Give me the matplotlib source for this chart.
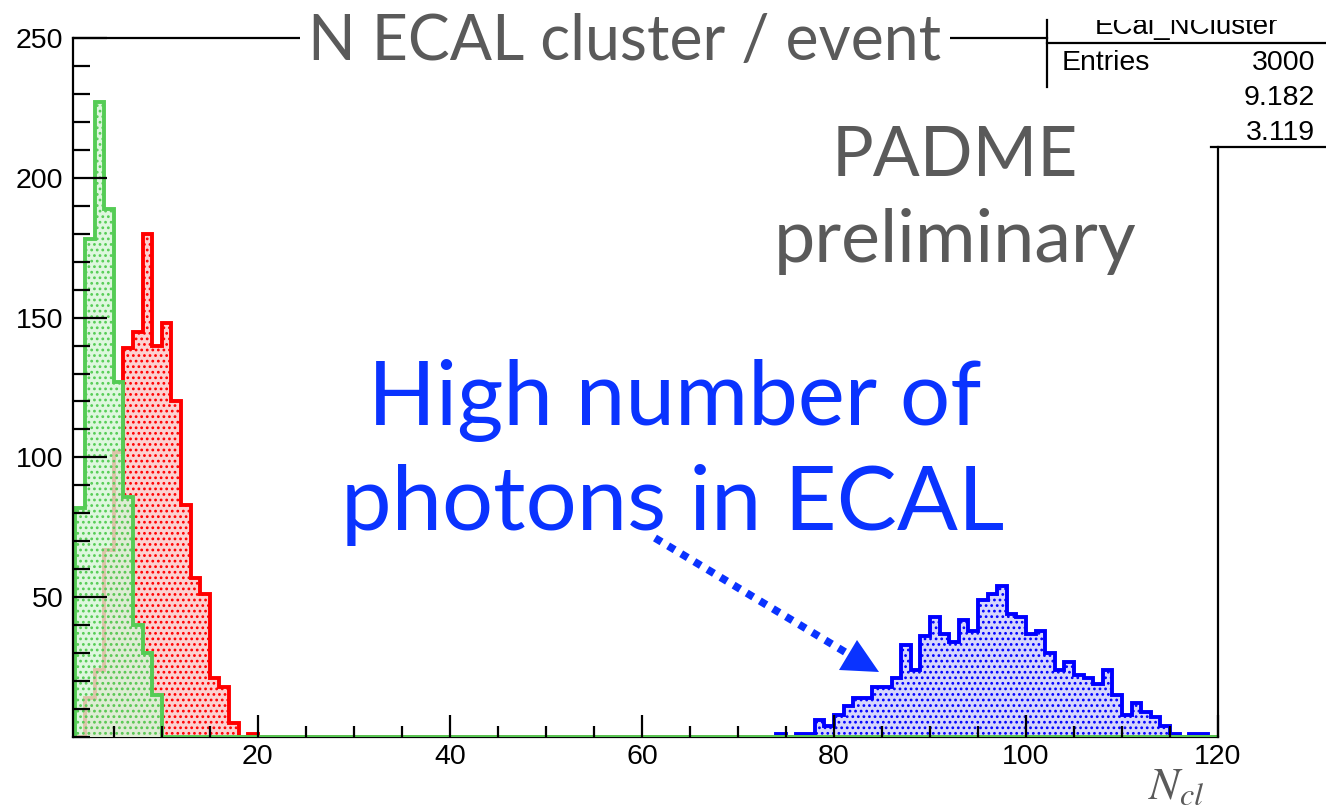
import matplotlib
matplotlib.use("Agg")
import matplotlib.pyplot as plt
import numpy as np
from matplotlib.lines import Line2D
from matplotlib.patches import Polygon, Rectangle
from matplotlib.ticker import MultipleLocator

plt.rcParams['font.family'] = ['Liberation Sans', 'DejaVu Sans']
plt.rcParams['mathtext.fontset'] = 'stix'
plt.rcParams['hatch.linewidth'] = 1.2

# histogram bins: one bin per cluster count, 0..120
edges = np.arange(0, 121)

# counts, each list starts at the given bin
green_start = 1
green_counts = [82, 178, 227, 189, 127, 86, 40, 30, 15]
red_start = 2
red_counts = [14, 24, 67, 102, 139, 145, 180, 140, 148, 120, 83, 57, 51, 21, 18, 5, 0, 1]
blue_start = 74
blue_counts = [1, 0, 1, 1, 6, 4, 8, 11, 14, 14, 18, 18, 21, 33, 24, 36, 43, 37, 34, 42,
               38, 49, 51, 54, 44, 43, 37, 38, 30, 24, 27, 22, 21, 19, 24, 15, 8, 12, 9, 7,
               4, 1, 0, 1, 1]

x_ticks = [20, 40, 60, 80, 100, 120]
y_ticks = [50, 100, 150, 200, 250]

stats_name = "ECal_NCluster"
stats_entries = "3000"
stats_mean = "9.182"
stats_rms = "3.119"


def full(start, vals):
    h = np.zeros(len(edges) - 1)
    h[start:start + len(vals)] = vals
    return h


W, H = 1326, 807
fx = lambda px: px / W
fy = lambda py: 1 - py / H

fig = plt.figure(figsize=(W / 100, H / 100), dpi=100)
ax = fig.add_axes([fx(73), fy(737), fx(1218) - fx(73), fy(38) - fy(737)])

blue = '#0000ff'
red = '#ff0000'
green = '#55cc55'
gray = '#5a5a5a'
text_blue = '#0a33ff'

hists = [
    (full(blue_start, blue_counts), blue, (0.84, 0.84, 0.99, 1.0)),
    (full(red_start, red_counts), red, (0.99, 0.82, 0.82, 1.0)),
    (full(green_start, green_counts), green, (0.84, 0.96, 0.84, 0.8)),
]
z = 1.0
for h, c, fc in hists:
    ax.stairs(h, edges, fill=True, facecolor=fc, edgecolor=c, hatch='...',
              linewidth=0, zorder=z)
    ax.stairs(h, edges, color=c, linewidth=2.8, zorder=z + 0.05)
    z += 0.1

ax.set_xlim(0.75, 120)
ax.set_ylim(0, 250)
ax.set_xticks(x_ticks)
ax.set_yticks(y_ticks)
ax.xaxis.set_minor_locator(MultipleLocator(5))
ax.yaxis.set_minor_locator(MultipleLocator(10))
ax.tick_params(which='both', direction='in', width=1.6, colors='black', labelsize=20.5)
ax.tick_params(axis='y', which='major', length=24.5, pad=7)
ax.tick_params(axis='y', which='minor', length=12)
ax.tick_params(axis='x', which='major', length=16, pad=5)
ax.tick_params(axis='x', which='minor', length=8)
ax.spines['top'].set_visible(False)
ax.spines['right'].set_visible(False)
for s in ['left', 'bottom']:
    ax.spines[s].set_linewidth(1.6)
ax.spines['bottom'].set_zorder(0.5)

# frame pieces and stats box
lines = [
    ([73, 1047], [38, 38]),
    ([1047, 1047], [20, 87]),
    ([1047, 1326], [43, 43]),
    ([1211, 1326], [147, 147]),
    ([1218, 1218], [147, 737]),
]
for xs, ys in lines:
    fig.add_artist(Line2D([fx(v) for v in xs], [fy(v) for v in ys], color='black', lw=1.6))

fig.text(fx(1186), fy(34), stats_name, ha='center', va='baseline', fontsize=20)
fig.add_artist(Rectangle((fx(1049), fy(20)), 1 - fx(1049), 1 - fy(20),
                         transform=fig.transFigure, facecolor='white', edgecolor='none', zorder=10))
fig.text(fx(1062), fy(70), "Entries", ha='left', va='baseline', fontsize=20.5)
fig.text(fx(1315), fy(70), stats_entries, ha='right', va='baseline', fontsize=20.5)
fig.text(fx(1315), fy(105), stats_mean, ha='right', va='baseline', fontsize=20.5)
fig.text(fx(1315), fy(140), stats_rms, ha='right', va='baseline', fontsize=20.5)

# title over the frame line
fig.text(fx(625), fy(60), "N ECAL cluster / event", ha='center', va='baseline',
         fontsize=45, family='Lato', color=gray,
         bbox=dict(facecolor='white', edgecolor='none', pad=6))

fig.text(fx(955), fy(176), "PADME", ha='center', va='baseline', fontsize=50,
         family='Lato', color=gray)
fig.text(fx(955), fy(262), "preliminary", ha='center', va='baseline', fontsize=53,
         family='Lato', color=gray)

fig.text(fx(675), fy(425), "High number of", ha='center', va='baseline', fontsize=64,
         family='Lato', color=text_blue)
fig.text(fx(673), fy(530), "photons in ECAL", ha='center', va='baseline', fontsize=65,
         family='Lato', color=text_blue)

fig.text(fx(1148), fy(799), r'$N_{cl}$', ha='left', va='baseline', fontsize=33, color=gray)

# dotted arrow
fig.add_artist(Line2D([fx(655), fx(845)], [fy(538), fy(652)], color=text_blue, lw=5.5,
                      linestyle=(0, (1, 1)), solid_capstyle='butt', dash_capstyle='butt'))
fig.add_artist(Polygon([(fx(857), fy(640)), (fx(839), fy(670)), (fx(879), fy(672))],
                       closed=True, transform=fig.transFigure, facecolor=text_blue,
                       edgecolor='none'))

fig.savefig("out.png", dpi=100)
